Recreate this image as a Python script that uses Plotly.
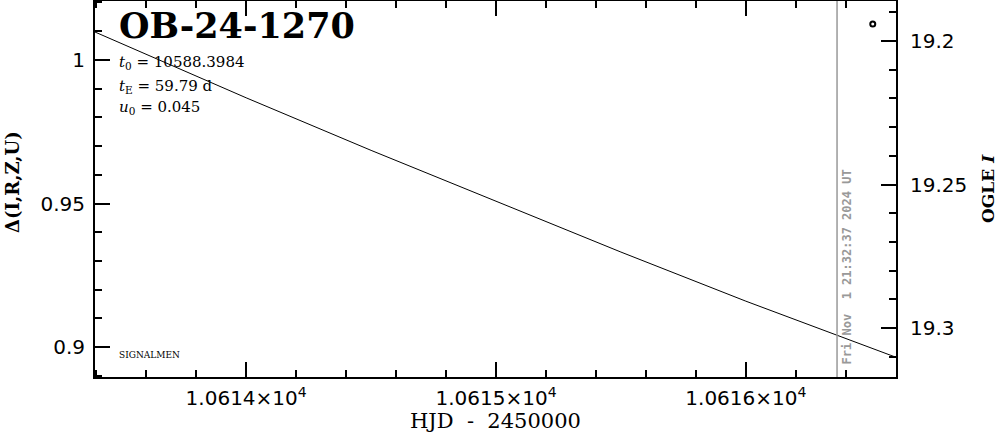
import plotly.graph_objects as go

# model curve
hjd = [10613.395, 10614.0, 10614.5, 10615.0, 10615.5, 10616.0, 10616.6]
delta = [1.0097, 0.9868, 0.9685, 0.9507, 0.9331, 0.9160, 0.8965]

# OGLE I data point
ogle_t = [10616.508]
ogle_mag = [19.1941]

now_hjd = 10616.365
now_label = "Fri Nov  1 21:32:37 2024 UT"

x_tickvals = [10614, 10615, 10616]
x_ticktext = ["1.0614×10<sup>4</sup>", "1.0615×10<sup>4</sup>", "1.0616×10<sup>4</sup>"]
y_tickvals = [0.9, 0.95, 1.0]
y_ticktext = ["0.9", "0.95", "1"]
y2_tickvals = [19.2, 19.25, 19.3]
y2_ticktext = ["19.2", "19.25", "19.3"]

x_range = [10613.395, 10616.601]
y_range = [0.8896, 1.0205]
y2_range = [19.317, 19.1861]

serif = "DejaVu Serif"
sans = "DejaVu Sans"

fig = go.Figure()
fig.add_trace(go.Scatter(x=hjd, y=delta, mode="lines",
                         line=dict(color="black", width=1), showlegend=False,
                         hoverinfo="skip"))
fig.add_trace(go.Scatter(x=ogle_t, y=ogle_mag, yaxis="y2", mode="markers",
                         marker=dict(symbol="circle-open", size=5, color="black",
                                     line=dict(width=2, color="black")),
                         showlegend=False))

fig.add_shape(type="line", x0=now_hjd, x1=now_hjd, y0=0, y1=1, xref="x", yref="paper",
              line=dict(color="#999999", width=1.5))

fig.add_annotation(x=now_hjd, y=0.027, xref="x", yref="paper", text="<b>" + now_label + "</b>",
                   textangle=-90, showarrow=False, xanchor="left", yanchor="bottom",
                   xshift=1, font=dict(family="DejaVu Sans Mono", size=12, color="#999999"))

fig.add_annotation(x=0.027, y=0.995, xref="paper", yref="paper", text="<b>OB-24-1270</b>",
                   showarrow=False, xanchor="left", yanchor="top",
                   font=dict(family=serif, size=35, color="black"))

info = [("<i>t</i><sub>0</sub> = 10588.3984", 62),
        ("<i>t</i><sub>E</sub> = 59.79 d", 86),
        ("<i>u</i><sub>0</sub> = 0.045", 108)]
for txt, ypx in info:
    fig.add_annotation(x=0.027, y=(377 - ypx) / 376, xref="paper", yref="paper", text=txt,
                       showarrow=False, xanchor="left", yanchor="middle",
                       font=dict(family=serif, size=15, color="black"))

fig.add_annotation(x=0.027, y=(377 - 355) / 376, xref="paper", yref="paper", text="SIGNALMEN",
                   showarrow=False, xanchor="left", yanchor="middle",
                   font=dict(family=serif, size=9, color="black"))

fig.add_annotation(x=0.5, y=-(421 - 377) / 376, xref="paper", yref="paper",
                   text="HJD  -  2450000", showarrow=False, xanchor="center", yanchor="middle",
                   font=dict(family=serif, size=21, color="black"))
fig.add_annotation(x=(12 - 95) / 801, y=(377 - 182) / 376, xref="paper", yref="paper",
                   text="<b>Δ(I,R,Z,U)</b>", textangle=-90, showarrow=False,
                   xanchor="center", yanchor="middle",
                   font=dict(family=serif, size=18, color="black"))
fig.add_annotation(x=(988 - 95) / 801, y=(377 - 189) / 376, xref="paper", yref="paper",
                   text="<b>OGLE <i>I</i></b>", textangle=-90, showarrow=False,
                   xanchor="center", yanchor="middle",
                   font=dict(family=serif, size=17, color="black"))

common = dict(showline=True, linecolor="black", linewidth=2,
              showgrid=False, zeroline=False, automargin=False,
              ticks="inside", ticklen=15, tickwidth=2, tickcolor="black",
              tickfont=dict(family=sans, size=20, color="black"))
minor_common = dict(ticks="inside", ticklen=7, tickwidth=2, tickcolor="black", showgrid=False)

fig.update_layout(
    width=999, height=434,
    margin=dict(l=95, r=103, t=1, b=57, autoexpand=False),
    paper_bgcolor="white", plot_bgcolor="white",
    xaxis=dict(range=x_range, tickmode="array", tickvals=x_tickvals, ticktext=x_ticktext,
               mirror="ticks", minor=dict(tick0=10614, dtick=0.2, **minor_common),
               ticklabelstandoff=2, **common),
    yaxis=dict(range=y_range, tickmode="array", tickvals=y_tickvals, ticktext=y_ticktext,
               minor=dict(tick0=0.9, dtick=0.01, **minor_common),
               ticklabelstandoff=4, **common),
    yaxis2=dict(range=y2_range, overlaying="y", side="right", anchor="x",
                tickmode="array", tickvals=y2_tickvals, ticktext=y2_ticktext,
                minor=dict(tick0=19.2, dtick=0.01, **minor_common),
                ticklabelstandoff=8, **common),
)

fig.write_html("out.html", config={"displayModeBar": False},
               post_script="document.body.style.margin='0px';")
